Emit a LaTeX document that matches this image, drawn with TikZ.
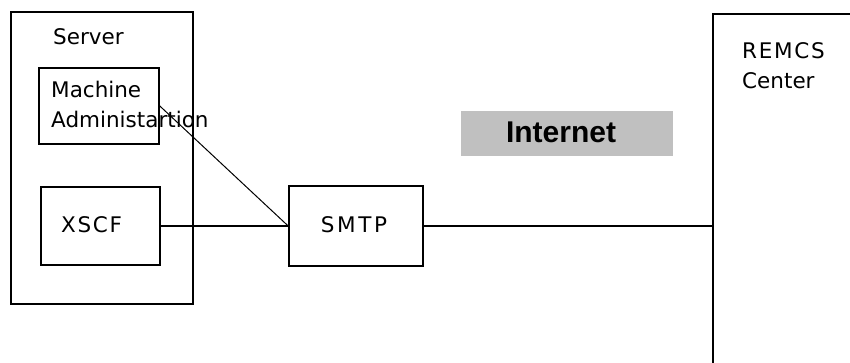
\documentclass[tikz,border=0pt]{standalone}
\usepackage{fontspec}
\setmainfont{DejaVu Sans}
\newfontfamily\boldarial{Liberation Sans}[BoldFont={Liberation Sans Bold}]
\begin{document}
\begin{tikzpicture}[x=1pt,y=-1pt,
  box/.style={draw, line width=1.6pt},
  lbl/.style={inner sep=0pt, anchor=base west, font=\fontsize{21.5}{24}\selectfont},
  conn/.style={line width=1.5pt}]
\useasboundingbox (0,0) rectangle (850,363);
% boxes
\node[box, minimum width=182pt, minimum height=292pt, anchor=north west] (server) at (10,11) {};
\node[box, minimum width=120pt, minimum height=76pt, anchor=north west] (mach) at (38,67) {};
\node[box, minimum width=119pt, minimum height=78pt, anchor=north west] (xscf) at (40,186) {};
\node[box, minimum width=134pt, minimum height=80pt, anchor=north west] (smtp) at (288,185) {};
\node[box, minimum width=200pt, minimum height=400pt, anchor=north west] (remcs) at (712,13) {};
\node[fill={rgb,255:red,192;green,192;blue,192}, minimum width=212pt, minimum height=45pt, anchor=north west, inner sep=0pt] (inet) at (461,111) {};
% texts
\node[lbl] (tserver) at (53,45) {Server};
\node[lbl] (tmach1) at (51,98) {Machine};
\node[lbl] (tmach2) at (51,128) {Administartion};
\node[lbl] (txscf) at (61,233) {\addfontfeature{LetterSpace=8}XSCF};
\node[lbl, anchor=base] (tsmtp) at (354,233) {\addfontfeature{LetterSpace=12}SMTP};
\node[lbl] (tremcs) at (742,59) {\addfontfeature{LetterSpace=8}REMCS};
\node[lbl] (tcenter) at (742,89) {Center};
\node[inner sep=0pt, anchor=base, font=\boldarial\bfseries\fontsize{30}{34}\selectfont] (tinet) at (561,143) {Internet};
% connectors
\draw[conn] (xscf.east) -- (smtp.west);
\draw[line width=1pt] (mach.east) -- (smtp.west);
\draw[conn] (smtp.east) -- (remcs.west |- smtp.east);
\end{tikzpicture}
\end{document}
